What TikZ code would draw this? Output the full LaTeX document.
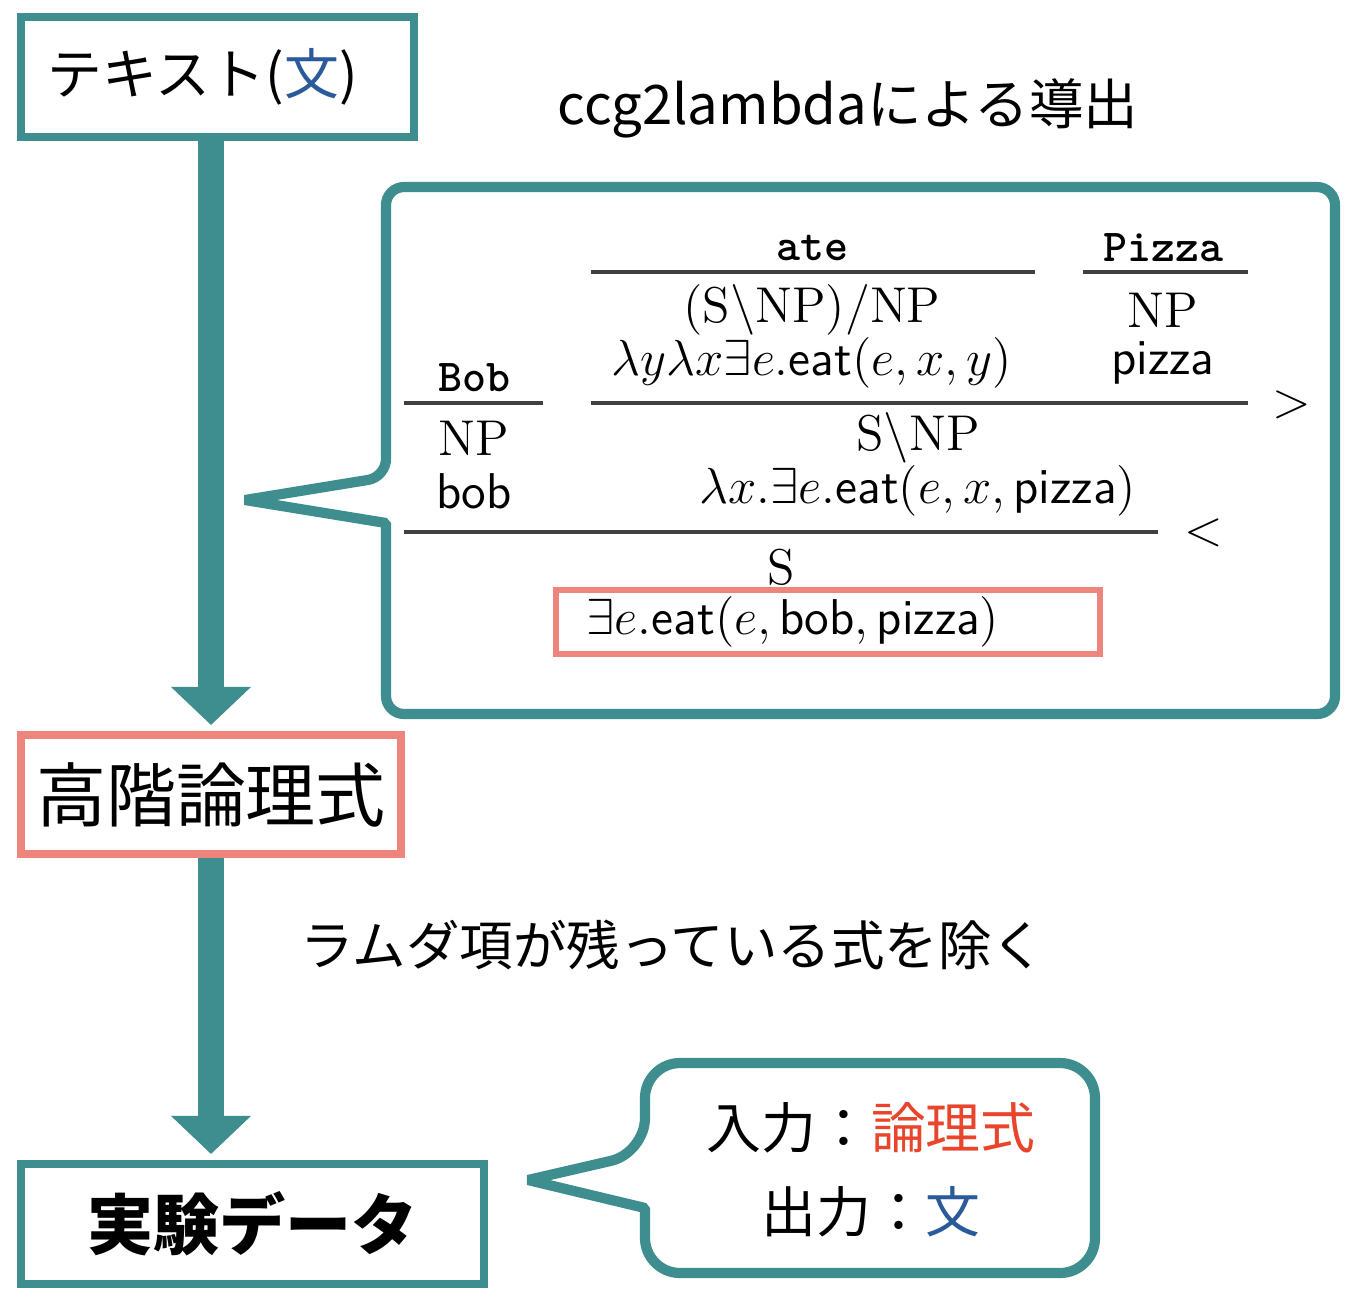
\documentclass[tikz,border=0pt]{standalone}
\usepackage{fontspec}
\newfontfamily\cjk{Noto Sans CJK JP}
\usetikzlibrary{arrows.meta}
\definecolor{flowteal}{HTML}{3F8E8F}
\definecolor{flowsalmon}{HTML}{EE857D}
\definecolor{flowblue}{HTML}{2A5A9A}
\definecolor{flowred}{HTML}{E8452C}
\tikzset{
	tealbox/.style={draw=flowteal, line width=2.3pt, fill=white, inner sep=0pt},
	pinkbox/.style={draw=flowsalmon, line width=2.3pt, fill=white, inner sep=0pt},
	flow/.style={draw=flowteal, line width=0.25cm, shorten >=0.06cm, -{Triangle[width=0.8cm,length=0.38cm,line width=0pt]}},
	callout/.style={draw=flowteal, line width=2.9pt, line join=bevel},
	rulebar/.style={draw=black!75, line width=0.9pt},
	deriv/.style={font=\fontsize{14.3}{16}\selectfont, inner sep=0pt},
	lexword/.style={font=\fontsize{13}{15}\selectfont\ttfamily\bfseries, inner sep=0pt},
}

\begin{document}
\begin{tikzpicture}[x=0.01cm, y=-0.01cm]
			%%%%% START %%%%%
			\useasboundingbox[fill=white] (0,0) rectangle (1354,1290);
			
			\node[tealbox, minimum width=3.93cm, minimum height=1.2cm, text width=3.39cm, align=left, font=\cjk\fontsize{15.6}{18}\selectfont] (text) at (217.5,77) {テキスト(\textcolor{flowblue}{文})};
			\node[pinkbox, minimum width=3.8cm, minimum height=1.19cm, font=\cjk\fontsize{19.9}{22}\selectfont] (hol) at (211,794.5) {高階論理式};
			\node[tealbox, minimum width=4.63cm, minimum height=1.2cm, font=\cjk\bfseries\fontsize{18.8}{22}\selectfont] (data) at (252.5,1224) {実験データ};
			
			\draw[flow] (hol.north |- text.south) -- (hol.north);
			\draw[flow] (hol.south) -- (hol.south |- data.north);
			
			\node[font=\cjk\fontsize{15.5}{18}\selectfont] (title) at (848,108) {ccg2lambdaによる導出};
			\node[font=\cjk\fontsize{15.2}{18}\selectfont] (filter) at (673,945) {ラムダ項が残っている式を除く};
			
			% derivation callout
			\draw[callout] (245,500) -- (386,523) [rounded corners=0.18cm] -- (386,714) -- (1335,714) -- (1335,187) -- (386,187) -- (386,477) [sharp corners] -- cycle;
			
			\node[lexword] (wAte) at (812,248) {ate};
			\node[lexword] (wPizza) at (1163,248) {Pizza};
			\node[lexword] (wBob) at (474,378) {Bob};
			\draw[rulebar] (591,272) -- (1035,272);
			\draw[rulebar] (1083,272) -- (1248,272);
			\draw[rulebar] (404,403) -- (543,403);
			
			\node[deriv] (cAte) at (812,310) {$(\mathrm{S}\backslash\mathrm{NP})/\mathrm{NP}$};
			\node[deriv] (sAte) at (812,363) {$\lambda y\lambda x\exists e.\mathsf{eat}(e,x,y)$};
			\node[deriv] (cPizza) at (1163,310) {NP};
			\node[deriv] (sPizza) at (1163,363) {$\mathsf{pizza}$};
			\draw[rulebar] (591,403) -- (1248,403);
			\node[deriv] (fwd) at (1292,405) {$>$};
			
			\node[deriv] (cBob) at (474,438) {NP};
			\node[deriv] (sBob) at (474,491) {$\mathsf{bob}$};
			\node[deriv] (cVP) at (918,438) {$\mathrm{S}\backslash\mathrm{NP}$};
			\node[deriv] (sVP) at (918,491) {$\lambda x.\exists e.\mathsf{eat}(e,x,\mathsf{pizza})$};
			\draw[rulebar] (404,532) -- (1158,532);
			\node[deriv] (bwd) at (1204,533) {$<$};
			
			\node[deriv] (cS) at (781,567) {S};
			\node[deriv, draw=flowsalmon, line width=1.7pt, minimum width=5.44cm, minimum height=0.64cm, text width=4.82cm, align=left] (sS) at (828,622) {$\exists e.\mathsf{eat}(e,\mathsf{bob},\mathsf{pizza})$};
			
			% input / output callout
			\draw[callout] (528,1180) -- (645,1208) [rounded corners=0.35cm] -- (645,1273) -- (1095,1273) -- (1095,1063) -- (645,1063) -- (645,1153) [sharp corners] -- cycle;
			\node[font=\cjk\fontsize{15.6}{24}\selectfont, align=center] (io) at (871,1170) {入力：\textcolor{flowred}{論理式}\\出力：\textcolor{flowblue}{文}};
			%%%%% END %%%%%
\end{tikzpicture}
\end{document}
